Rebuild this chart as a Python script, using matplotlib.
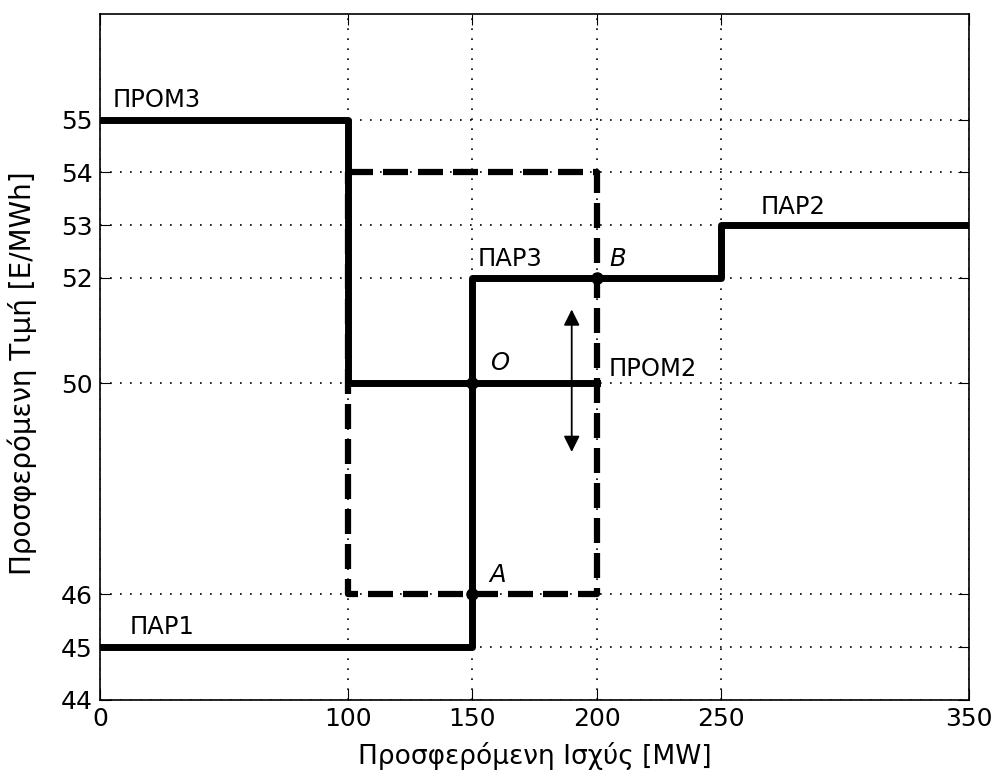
import matplotlib
matplotlib.use('Agg')
import matplotlib.pyplot as plt

# curves (MW, €/MWh)
prom_x = [0, 100, 100, 200]
prom_y = [55, 55, 50, 50]
par_x = [0, 150, 150, 250, 250, 350]
par_y = [45, 45, 52, 52, 53, 53]
rect_x = [100, 200, 200, 100, 100]
rect_y = [54, 54, 46, 46, 54]

# marked points O, A, B
pt_x = [150, 150, 200]
pt_y = [50, 46, 52]

xticks = [0, 100, 150, 200, 250, 350]
yticks = [44, 45, 46, 50, 52, 53, 54, 55]

fig = plt.figure(figsize=(9.99, 7.76), dpi=100)
ax = fig.add_axes([0.1, 0.098, 0.87, 0.884])

ax.plot(rect_x, rect_y, color='black', lw=4.5, dashes=(4, 1.6), solid_capstyle='butt')
ax.plot(prom_x, prom_y, color='black', lw=5)
ax.plot(par_x, par_y, color='black', lw=5)
ax.plot(pt_x, pt_y, 'o', color='black', ms=8)

ax.annotate('', xy=(190, 51.4), xytext=(190, 48.7),
            arrowprops=dict(arrowstyle='<|-|>', color='black', lw=1.3,
                            mutation_scale=24, shrinkA=0, shrinkB=0))

fs = 17.5
ax.text(5, 55.15, 'ΠΡΟΜ3', fontsize=fs, va='bottom')
ax.text(12, 45.15, 'ΠΑΡ1', fontsize=fs, va='bottom')
ax.text(152, 52.12, 'ΠΑΡ3', fontsize=fs, va='bottom')
ax.text(205, 52.12, 'B', fontsize=fs, style='italic', va='bottom')
ax.text(157, 50.15, 'O', fontsize=fs, style='italic', va='bottom')
ax.text(205, 50.05, 'ΠΡΟΜ2', fontsize=fs, va='bottom')
ax.text(157, 46.15, 'A', fontsize=fs, style='italic', va='bottom')
ax.text(266, 53.12, 'ΠΑΡ2', fontsize=fs, va='bottom')

ax.set_xlim(0, 350)
ax.set_ylim(44, 57)
ax.set_xticks(xticks)
ax.set_yticks(yticks)
ax.tick_params(direction='in', length=8, labelsize=18, top=True, right=True, pad=5)
ax.grid(True, color='black', lw=1.2, dashes=(1, 5))
for s in ax.spines.values():
    s.set_linewidth(1.2)

ax.set_xlabel('Προσφερόμενη Ισχύς [MW]', fontsize=19, labelpad=8)
ax.set_ylabel('Προσφερόμενη Τιμή [E/MWh]', fontsize=20)
ax.yaxis.set_label_coords(-0.072, 0.477)

fig.savefig('out.png', dpi=100)
